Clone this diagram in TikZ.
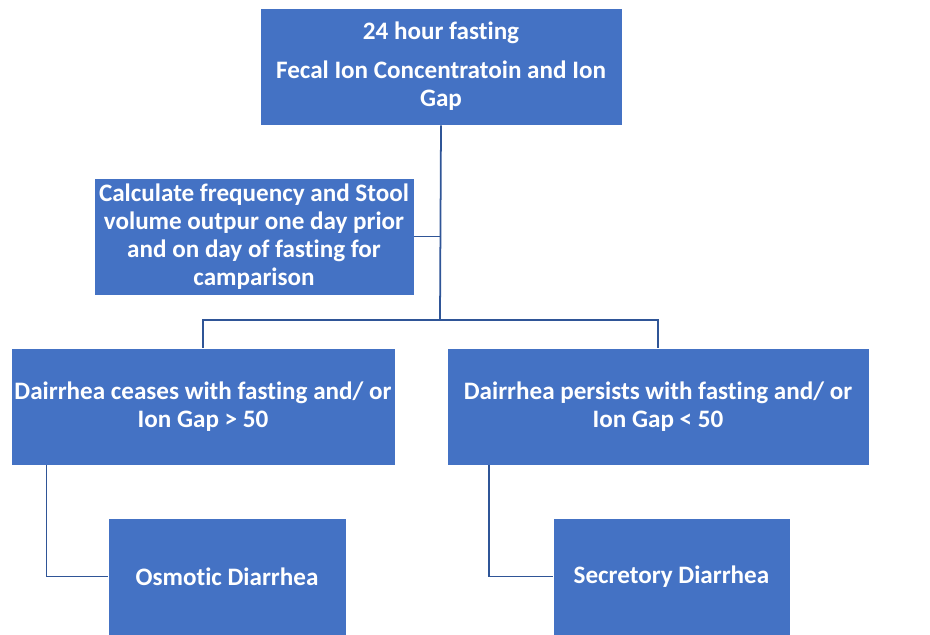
\documentclass[tikz,border=0pt]{standalone}
\usepackage{fontspec}
\setmainfont{Carlito}[Ligatures=NoCommon]
\usetikzlibrary{positioning}

\definecolor{boxblue}{HTML}{4472C4}
\definecolor{lineblue}{HTML}{2F5597}

\tikzset{
  flowbox/.style={fill=boxblue, draw=white, line width=0.4pt, text=white,
    font=\bfseries\fontsize{14.3}{16}\selectfont, align=center,
    minimum height=2.34cm, inner sep=2pt},
  link/.style={draw=lineblue, line width=1pt}
}

\begin{document}
\begin{tikzpicture}[x=0.02cm, y=-0.02cm]
  \useasboundingbox (0,0) rectangle (930,635);

  % top box
  \node[flowbox, minimum width=7.24cm] (fasting) at (441,66.5)
    {24 hour fasting\\[6pt] Fecal Ion Concentratoin and Ion\\Gap};

  % side note
  \node[flowbox, minimum width=6.4cm] (calc) at (254,236.5)
    {Calculate frequency and Stool\\volume outpur one day prior\\and on day of fasting for\\camparison};

  % the two outcomes
  \node[flowbox, minimum width=7.64cm] (ceases) at (203,406.5)
    {Dairrhea ceases with fasting and/ or\\Ion Gap > 50};
  \node[flowbox, minimum width=8.44cm] (persists) at (658,406.5)
    {Dairrhea persists with fasting and/ or\\Ion Gap < 50};

  % diagnoses
  \node[flowbox, minimum width=4.76cm] (osmotic) at (227,576.5) {Osmotic Diarrhea};
  \node[flowbox, minimum width=4.74cm] (secretory) at (671.5,576.5) {Secretory Diarrhea};

  % connectors
  \coordinate (bus) at (440,320);
  \draw[link] (fasting.south) -- (bus);
  \draw[link] (calc.east) -- (calc.east -| bus);
  \draw[link] (ceases.north) |- (bus) -| (persists.north);
  \draw[link] ([xshift=0.72cm]ceases.south west) |- (osmotic.west);
  \draw[link] ([xshift=0.84cm]persists.south west) |- (secretory.west);
\end{tikzpicture}
\end{document}
